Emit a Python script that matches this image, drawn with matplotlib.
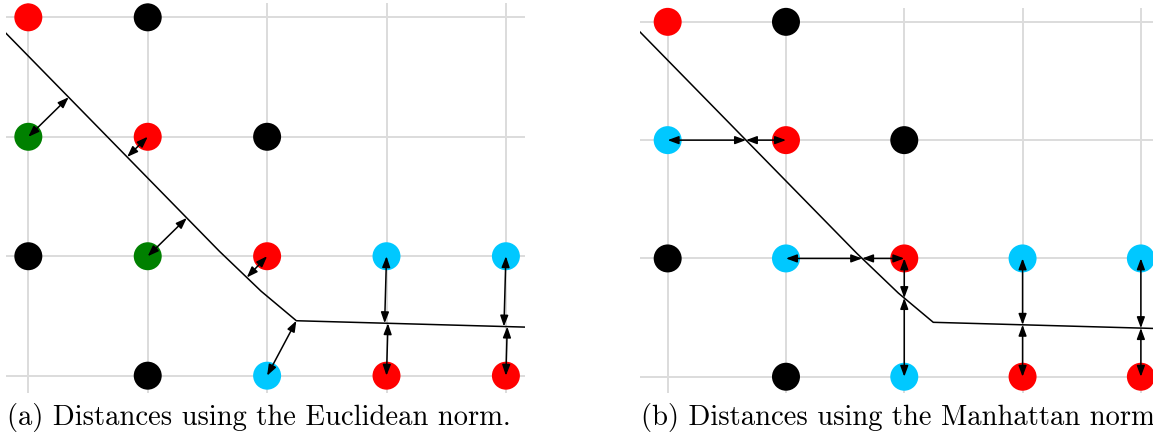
import numpy as np
import matplotlib
matplotlib.use("Agg")
import matplotlib.pyplot as plt
from matplotlib.patches import FancyArrowPatch, ArrowStyle

# ---- data ----
pt_x = [0, 1, 0, 1, 2, 0, 1, 2, 3, 4, 1, 2, 3, 4]
pt_y = [3, 3, 2, 2, 2, 1, 1, 1, 1, 1, 0, 0, 0, 0]
colors_a = ['red', 'black', 'green', 'red', 'black', 'black', 'green', 'red',
            'cyan', 'cyan', 'black', 'cyan', 'red', 'red']
colors_b = ['red', 'black', 'cyan', 'red', 'black', 'black', 'cyan', 'red',
            'cyan', 'cyan', 'black', 'cyan', 'red', 'red']

# decision boundary (polyline)
bound_x = [-0.3, 1.6, 1.95, 2.245, 4.4]
bound_y = [2.982, 1.042, 0.707, 0.46, 0.40]

# points with Euclidean distance arrows
euclid_pts = [(0, 2), (1, 2), (1, 1), (2, 1), (2, 0), (3, 1), (3, 0), (4, 1), (4, 0)]
# points with Manhattan distance arrows (h = horizontal, v = vertical)
manhattan_pts = [(0, 2, 'h'), (1, 2, 'h'), (1, 1, 'h'), (2, 1, 'h'), (2, 1, 'v'),
                 (2, 0, 'v'), (3, 1, 'v'), (3, 0, 'v'), (4, 1, 'v'), (4, 0, 'v')]

captions = ["(a) Distances using the Euclidean norm.",
            "(b) Distances using the Manhattan norm."]

cmap = {'red': '#ff0000', 'black': '#000000', 'green': '#008000', 'cyan': '#00c8ff'}

W, H = 1153, 446
fig = plt.figure(figsize=(W / 100, H / 100), dpi=100)


def axes_px(left, top, width, height):
    return fig.add_axes([left / W, (H - top - height) / H, width / W, height / H])


ax_a = axes_px(6, 3, 519, 390)
ax_a.set_xlim(-0.187, 4.16)
ax_a.set_ylim(-0.145, 3.12)
ax_b = axes_px(640, 8, 519.8, 384.7)
ax_b.set_xlim(-0.234, 4.16)
ax_b.set_ylim(-0.135, 3.117)

bx = np.array(bound_x)
by = np.array(bound_y)


def nearest_on_poly(p):
    best, bd = None, 1e9
    for i in range(len(bx) - 1):
        a = np.array([bx[i], by[i]])
        b = np.array([bx[i + 1], by[i + 1]])
        d = b - a
        t = np.clip(np.dot(p - a, d) / np.dot(d, d), 0, 1)
        q = a + t * d
        dist = np.linalg.norm(p - q)
        if dist < bd:
            bd, best = dist, q
    return best


def arrow(ax, p, q):
    st = ArrowStyle('<|-|>', head_length=6.5, head_width=2.4)
    ax.add_patch(FancyArrowPatch(tuple(p), tuple(q), arrowstyle=st, mutation_scale=1,
                                 shrinkA=0, shrinkB=0, lw=1.1, color='black',
                                 zorder=4, clip_on=False))


for ax, cols in ((ax_a, colors_a), (ax_b, colors_b)):
    ax.set_xticks(range(5))
    ax.set_yticks(range(4))
    ax.grid(True, color='#dcdcdc', lw=1.4, zorder=0)
    ax.tick_params(length=0, labelbottom=False, labelleft=False)
    for s in ax.spines.values():
        s.set_visible(False)
    ax.set_axisbelow(True)
    ax.scatter(pt_x, pt_y, s=406, c=[cmap[c] for c in cols], zorder=2,
               clip_on=False, linewidths=0)
    ax.plot(bound_x, bound_y, color='black', lw=1.1, zorder=3,
            solid_joinstyle='round')

for (x, y) in euclid_pts:
    p = np.array([x, y], float)
    arrow(ax_a, p, nearest_on_poly(p))

for (x, y, d) in manhattan_pts:
    p = np.array([x, y], float)
    if d == 'h':
        q = np.array([np.interp(y, by[::-1], bx[::-1]), y])
    else:
        q = np.array([x, np.interp(x, bx, by)])
    arrow(ax_b, p, q)

fig.text(7 / W, 1 - 418 / H, captions[0], family='cmr10', fontsize=20.6,
         ha='left', va='center')
fig.text(641 / W, 1 - 418 / H, captions[1], family='cmr10', fontsize=20.6,
         ha='left', va='center')

fig.savefig('out.png', dpi=100)
